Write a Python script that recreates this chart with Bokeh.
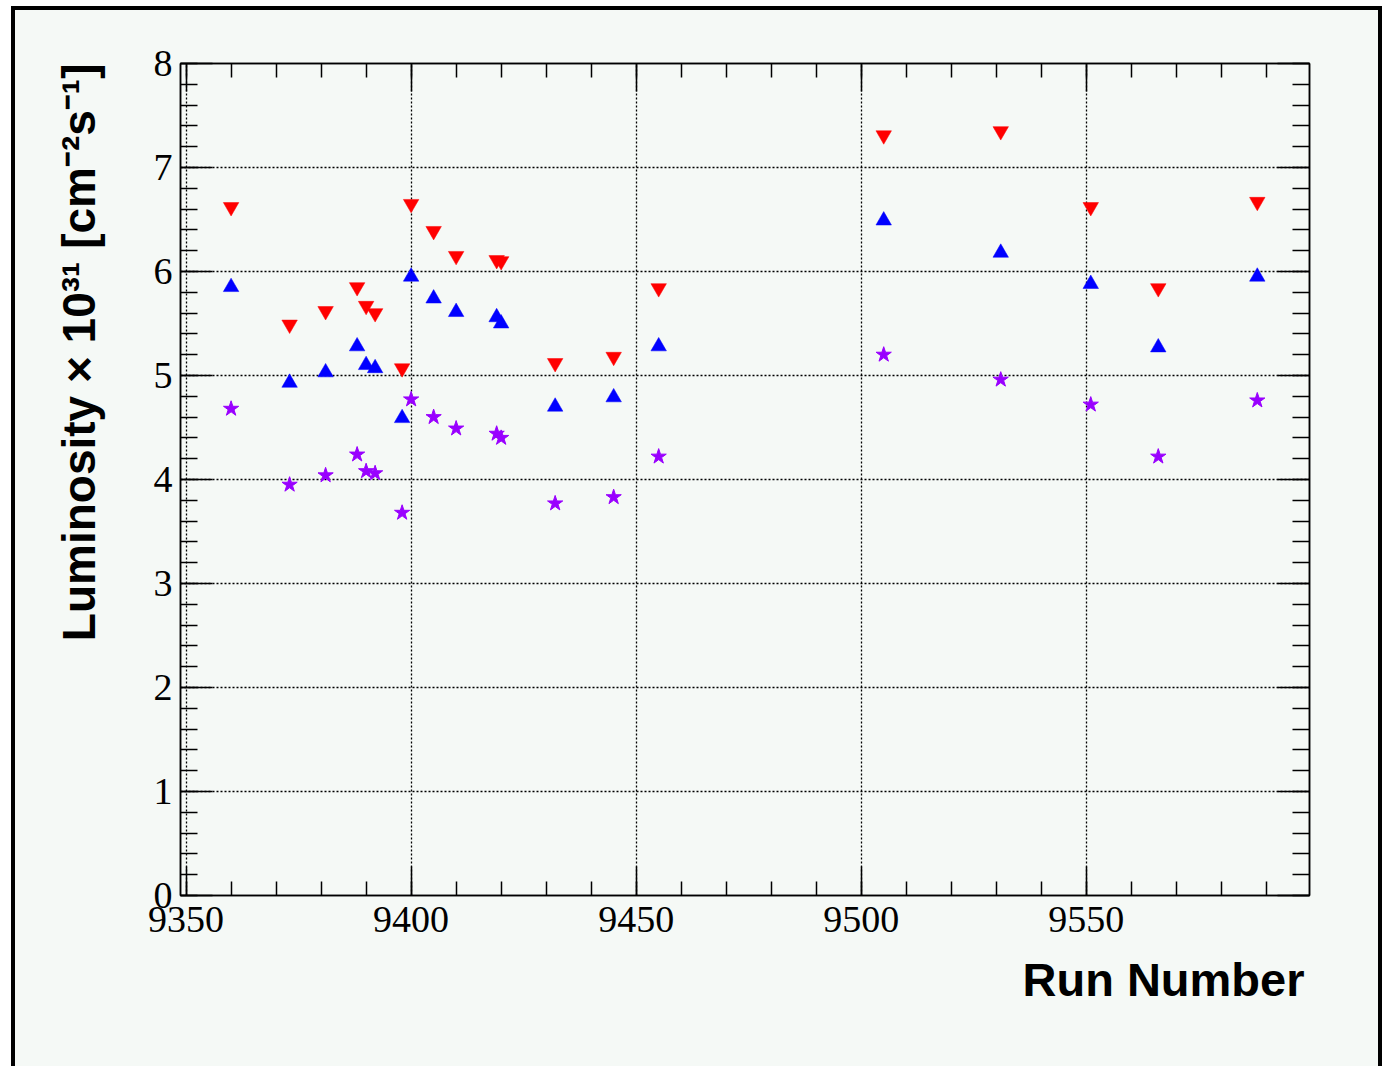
import math
from bokeh.plotting import figure
from bokeh.models import LinearAxis, SingleIntervalTicker, Title, Range1d, CustomJSTickFormatter
from bokeh.embed import file_html
from bokeh.resources import INLINE

# ---- data ----
runs = [9360, 9373, 9381, 9388, 9390, 9392, 9398, 9400, 9405, 9410,
        9419, 9420, 9432, 9445, 9455, 9505, 9531, 9551, 9566, 9588]
lumi_red = [6.62, 5.49, 5.62, 5.85, 5.67, 5.60, 5.07, 6.65, 6.39, 6.15,
            6.11, 6.10, 5.12, 5.18, 5.84, 7.31, 7.35, 6.62, 5.84, 6.67]
lumi_blue = [5.85, 4.93, 5.03, 5.28, 5.10, 5.07, 4.59, 5.95, 5.74, 5.61,
             5.56, 5.50, 4.70, 4.79, 5.28, 6.49, 6.18, 5.88, 5.27, 5.95]
lumi_violet = [4.68, 3.95, 4.04, 4.24, 4.08, 4.06, 3.68, 4.77, 4.60, 4.49,
               4.44, 4.40, 3.77, 3.83, 4.22, 5.20, 4.96, 4.72, 4.22, 4.76]

x_title = "Run Number"
y_title = "Luminosity × 10³¹ [cm⁻²s⁻¹]"

# ---- layout ----
W, H = 1383, 1066
FL, FR, FT, FB = 180, 1309, 63, 895
X0, X1 = 9348.76, 9599.6
Y0, Y1 = 0.0, 8.0
BG = "#f5f9f6"

p = figure(width=W, height=H, output_backend="svg", toolbar_location=None,
           x_range=Range1d(X0, X1), y_range=Range1d(Y0, Y1),
           x_axis_location=None, y_axis_location=None,
           min_border_left=FL, min_border_right=W - FR,
           min_border_top=FT, min_border_bottom=H - FB)
p.background_fill_color = BG
p.border_fill_color = None
p.outline_line_color = "black"
p.outline_line_width = 1.5
# canvas surround: white margin, thick black box, light fill (drawn by CSS behind the transparent border)
p.styles = {
    "background": (
        "linear-gradient(#000,#000) 11px 6px / 4px 1200px no-repeat, "
        "linear-gradient(#000,#000) 11px 6px / 1371px 4px no-repeat, "
        "linear-gradient(#000,#000) 1378px 6px / 4px 1200px no-repeat, "
        f"linear-gradient({BG},{BG}) 15px 10px / 1363px 1200px no-repeat, "
        "#ffffff"
    )
}

xt = SingleIntervalTicker(interval=50, num_minor_ticks=5)
yt = SingleIntervalTicker(interval=1, num_minor_ticks=5)

LABEL_FONT = "Liberation Serif"


def style_axis(ax, major_in, minor_in, labels=True):
    ax.major_tick_in = major_in
    ax.major_tick_out = 0
    ax.minor_tick_in = minor_in
    ax.minor_tick_out = 0
    ax.axis_line_color = "black"
    ax.axis_line_width = 1.5
    ax.major_tick_line_color = "black"
    ax.major_tick_line_width = 1.5
    ax.minor_tick_line_color = "black"
    ax.minor_tick_line_width = 1.5
    if labels:
        ax.major_label_text_font = LABEL_FONT
        ax.major_label_text_font_size = "38px"
        ax.major_label_text_color = "black"
    else:
        ax.major_label_text_color = None
        ax.major_label_text_font_size = "1px"
        ax.formatter = CustomJSTickFormatter(code="return ''")


xb = LinearAxis(ticker=xt)
style_axis(xb, 29, 14)
xb.major_label_standoff = 11
p.add_layout(xb, "below")

xa = LinearAxis(ticker=xt)
style_axis(xa, 28, 14, labels=False)
p.add_layout(xa, "above")

yl = LinearAxis(ticker=yt)
style_axis(yl, 32, 17)
yl.major_label_standoff = 8
p.add_layout(yl, "left")

yr = LinearAxis(ticker=yt)
style_axis(yr, 32, 17, labels=False)
p.add_layout(yr, "right")

p.xgrid.ticker = xt
p.ygrid.ticker = yt
for g in (p.xgrid, p.ygrid):
    g.grid_line_color = "black"
    g.grid_line_dash = "2 2"
    g.grid_line_width = 1.3

# ---- markers ----
p.scatter(runs, lumi_red, marker="inverted_triangle", size=15.5,
          fill_color="#ff0000", line_color="#ff0000", line_width=0.5)
p.scatter(runs, lumi_blue, marker="triangle", size=15.5,
          fill_color="#0000ff", line_color="#0000ff", line_width=0.5)
p.scatter(runs, lumi_violet, marker="star", size=16,
          fill_color="#9900ff", line_color="#9900ff", line_width=1)

# ---- axis titles (side-panel titles, outside the frame) ----
p.add_layout(Title(text=x_title, align="right", text_font="Liberation Sans",
                   text_font_style="bold", text_font_size="47px",
                   text_color="black", standoff=33, offset=5), "below")
p.add_layout(Title(text=y_title, align="right", text_font="Liberation Sans",
                   text_font_style="bold", text_font_size="46px",
                   text_color="black", standoff=92), "left")

open("out.html", "w").write(file_html(p, INLINE))
